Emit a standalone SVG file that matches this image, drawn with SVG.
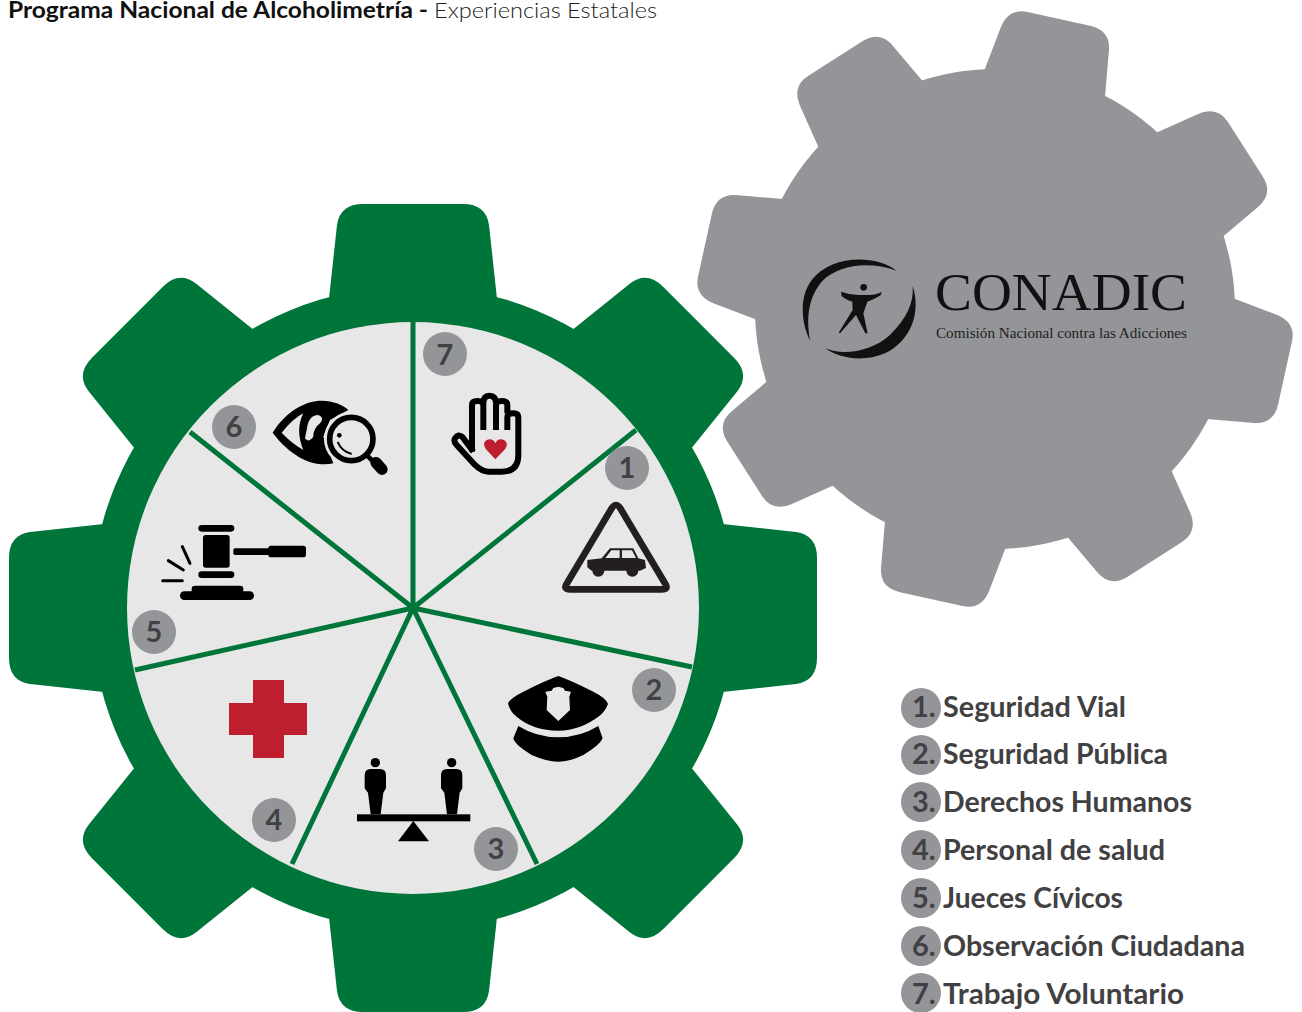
<svg xmlns="http://www.w3.org/2000/svg" xmlns:xlink="http://www.w3.org/1999/xlink" width="1302" height="1012" viewBox="0 0 1302 1012">
<style>
text{font-family:"Lato","Noto Sans","Liberation Sans",sans-serif}
.badge{fill:#939598}
.num{fill:#414042;font-size:29px;font-weight:700;text-anchor:middle}
.leg{fill:#414042;font-size:29px;font-weight:700}
.div{stroke:#00753a;stroke-width:5;fill:none}
</style>
<defs>
<path id="gt" d="M-85-300L-76-383Q-73-404-50-404L50-404Q73-404 76-383L85-300Z"/>
<path id="gy" d="M-64-215L-55-275Q-52-297-32-297L32-297Q54-297 56-275L64-215Z"/>
</defs>
<rect width="1302" height="1012" fill="#fff"/>
<g id="title"><text x="8" y="18" font-size="22" font-weight="700" fill="#111" textLength="420" lengthAdjust="spacingAndGlyphs">Programa Nacional de Alcoholimetría -</text><text x="434" y="18" font-size="22" font-weight="300" fill="#222" textLength="223" lengthAdjust="spacingAndGlyphs">Experiencias Estatales</text></g>
<g id="gear-conadic" fill="#939598" transform="translate(995 309) rotate(12.4)">
<circle r="240"/>
<use xlink:href="#gy"/><use xlink:href="#gy" transform="rotate(45)"/><use xlink:href="#gy" transform="rotate(90)"/><use xlink:href="#gy" transform="rotate(135)"/><use xlink:href="#gy" transform="rotate(180)"/><use xlink:href="#gy" transform="rotate(225)"/><use xlink:href="#gy" transform="rotate(270)"/><use xlink:href="#gy" transform="rotate(315)"/>
</g>
<g id="logo-conadic">
<g transform="translate(790 250) scale(.3333)" fill="#111">
<path d="M320 62C250 10 120 18 65 90C25 145 35 220 60 272C50 215 50 150 95 95C150 40 240 35 320 62Z"/>
<path d="M368 108C395 190 360 275 285 310C220 338 150 325 105 295C160 318 245 305 300 255C350 205 372 160 368 108Z"/>
<circle cx="221" cy="112" r="10"/>
<path d="M153 125Q180 135 205 135L238 135Q258 135 275 125L272 136Q250 150 232 155L220 190L233 250L226 250L198 195L150 250L146 248L188 180L187 155Q165 148 155 138Z"/>
</g>
<text x="935" y="310" font-size="53" fill="#111" style="font-family:'Liberation Serif',serif" textLength="252" lengthAdjust="spacingAndGlyphs">CONADIC</text>
<text x="936" y="338" font-size="15" fill="#231f20" style="font-family:'Liberation Serif',serif" textLength="251" lengthAdjust="spacingAndGlyphs">Comisión Nacional contra las Adicciones</text>
</g>
<g id="gear-main" fill="#00753a" transform="translate(413 608)">
<circle r="322"/>
<use xlink:href="#gt"/><use xlink:href="#gt" transform="rotate(45)"/><use xlink:href="#gt" transform="rotate(90)"/><use xlink:href="#gt" transform="rotate(135)"/><use xlink:href="#gt" transform="rotate(180)"/><use xlink:href="#gt" transform="rotate(225)"/><use xlink:href="#gt" transform="rotate(270)"/><use xlink:href="#gt" transform="rotate(315)"/>
<circle r="286" fill="#e7e7e7"/>
</g>
<g id="connectors" class="div">
<path d="M413 608V322M413 608L636 430M413 608L692 667M413 608L537 864M413 608L292 864M413 608L135 670M413 608L190 432"/>
</g>
<g id="icon-hand" transform="translate(420 330) scale(.3333)">
<path fill="none" stroke="#000" stroke-width="18" stroke-linejoin="round" d="M160 365L128 322Q115 310 105 325Q100 335 110 345L165 405Q185 425 205 425L245 425Q295 425 295 375L295 262Q295 250 280 250Q262 250 262 262L262 300M262 250L262 225Q262 213 245 213Q228 213 228 225L228 300M228 220Q228 197 208 197Q190 197 190 220L190 300M190 225Q190 213 172 213Q156 213 156 225L156 365"/>
<path fill="#be1e2d" d="M226 388L198 358Q185 340 200 330Q218 322 226 340Q234 322 252 330Q268 340 255 358Z"/>
</g>
<g id="icon-car" transform="translate(420 330) scale(.3333)" fill="#231f20">
<path fill="none" stroke="#231f20" stroke-width="20" d="M575 535Q588 515 601 535L735 760Q748 778 725 778L450 778Q428 778 441 760Z"/>
<path d="M502 690L545 685L570 655L640 655L655 685L675 690L678 714L660 722L515 722L502 712Z"/>
<circle cx="535" cy="722" r="18"/><circle cx="637" cy="722" r="18"/>
<path fill="#e7e7e7" d="M556 684L574 661L599 661L599 684ZM606 661L636 661L648 684L606 684Z"/>
</g>
<g id="icon-cap" transform="translate(340 660) scale(.3333)">
<path d="M504 130Q510 115 550 95Q620 60 655 48Q690 60 760 95Q800 115 804 132Q795 155 778 168Q720 212 655 212Q580 212 530 170Q510 155 504 130Z"/>
<path d="M535 198Q590 232 655 232Q720 232 775 198L788 235Q780 255 730 285Q690 305 655 305Q620 305 575 285Q525 255 520 235Z"/>
<path fill="#e7e7e7" d="M616 95L635 92L640 84L655 80L670 84L675 92L693 95L688 110L690 150L655 183L620 150L622 110Z"/>
</g>
<g id="icon-scale" transform="translate(340 660) scale(.3333)">
<rect x="51" y="463" width="340" height="21"/>
<path d="M220 483L267 544L174 544Z"/>
<g id="fig"><circle cx="106" cy="308" r="14"/><path d="M74 345Q74 327 92 327L120 327Q138 327 138 345L138 385L130 398L122 463L92 463L84 398L74 385Z"/></g>
<use xlink:href="#fig" x="229"/>
</g>
<path id="icon-cross" fill="#be1e2d" d="M253 680H284V703H307V735H284V758H253V735H229V703H253Z"/>
<g id="icon-gavel" transform="translate(130 330) scale(.3333)">
<rect x="205" y="585" width="108" height="20" rx="10"/><rect x="219" y="615" width="80" height="98" rx="8"/><rect x="205" y="724" width="108" height="20" rx="10"/><rect x="310" y="655" width="110" height="20" rx="5"/><rect x="415" y="647" width="113" height="35" rx="8"/><rect x="150" y="784" width="222" height="26" rx="13"/><rect x="185" y="767" width="155" height="30" rx="10"/>
<path stroke="#000" stroke-width="9" stroke-linecap="round" d="M157 650L180 700M115 692L160 720M98 752L157 752"/>
</g>
<g id="icon-eye" transform="translate(130 330) scale(.3333)">
<path d="M428 308C470 240 530 212 575 212C610 212 640 225 655 240L600 270L580 320L610 400C560 412 490 390 428 308Z"/>
<path fill="#e7e7e7" d="M455 308Q490 265 520 250Q495 300 520 360Q485 340 455 308Z"/>
<path fill="#e7e7e7" d="M530 300Q535 255 565 255Q585 262 570 280Q550 295 550 320Q535 340 525 325Z"/>
<circle cx="664" cy="327" r="82" fill="#e7e7e7"/>
<circle cx="664" cy="327" r="65" fill="#e7e7e7" stroke="#000" stroke-width="17"/>
<path stroke="#000" stroke-width="14" d="M710 375L730 395"/>
<path stroke="#000" stroke-width="34" stroke-linejoin="round" stroke-linecap="round" d="M738 398L756 418"/>
<circle cx="628" cy="316" r="7"/>
<path fill="none" stroke="#000" stroke-width="6" d="M623 336Q635 365 665 372"/>
</g>
<g id="badge-1"><circle class="badge" cx="627" cy="468" r="22"/><text class="num" x="627" y="478">1</text></g>
<g id="badge-2"><circle class="badge" cx="654" cy="690" r="22"/><text class="num" x="654" y="700">2</text></g>
<g id="badge-3"><circle class="badge" cx="496" cy="849" r="22"/><text class="num" x="496" y="859">3</text></g>
<g id="badge-4"><circle class="badge" cx="274" cy="820" r="22"/><text class="num" x="274" y="830">4</text></g>
<g id="badge-5"><circle class="badge" cx="154" cy="632" r="22"/><text class="num" x="154" y="642">5</text></g>
<g id="badge-6"><circle class="badge" cx="234" cy="427" r="22"/><text class="num" x="234" y="437">6</text></g>
<g id="badge-7"><circle class="badge" cx="445" cy="354" r="22"/><text class="num" x="445" y="365">7</text></g>
<g id="legend">
<g id="leg-1"><circle class="badge" cx="921" cy="708" r="20"/><text class="leg" x="912" y="717">1.</text><text class="leg" x="943" y="717" textLength="183" lengthAdjust="spacingAndGlyphs">Seguridad Vial</text></g>
<g id="leg-2"><circle class="badge" cx="921" cy="755" r="20"/><text class="leg" x="912" y="764">2.</text><text class="leg" x="943" y="764" textLength="225" lengthAdjust="spacingAndGlyphs">Seguridad Pública</text></g>
<g id="leg-3"><circle class="badge" cx="921" cy="802" r="20"/><text class="leg" x="912" y="812">3.</text><text class="leg" x="943" y="812" textLength="249" lengthAdjust="spacingAndGlyphs">Derechos Humanos</text></g>
<g id="leg-4"><circle class="badge" cx="921" cy="850" r="20"/><text class="leg" x="912" y="860">4.</text><text class="leg" x="943" y="860" textLength="222" lengthAdjust="spacingAndGlyphs">Personal de salud</text></g>
<g id="leg-5"><circle class="badge" cx="921" cy="898" r="20"/><text class="leg" x="912" y="908">5.</text><text class="leg" x="943" y="908" textLength="180" lengthAdjust="spacingAndGlyphs">Jueces Cívicos</text></g>
<g id="leg-6"><circle class="badge" cx="921" cy="946" r="20"/><text class="leg" x="912" y="956">6.</text><text class="leg" x="943" y="956" textLength="302" lengthAdjust="spacingAndGlyphs">Observación Ciudadana</text></g>
<g id="leg-7"><circle class="badge" cx="921" cy="993" r="20"/><text class="leg" x="912" y="1004">7.</text><text class="leg" x="943" y="1004" textLength="241" lengthAdjust="spacingAndGlyphs">Trabajo Voluntario</text></g>
</g>
</svg>
